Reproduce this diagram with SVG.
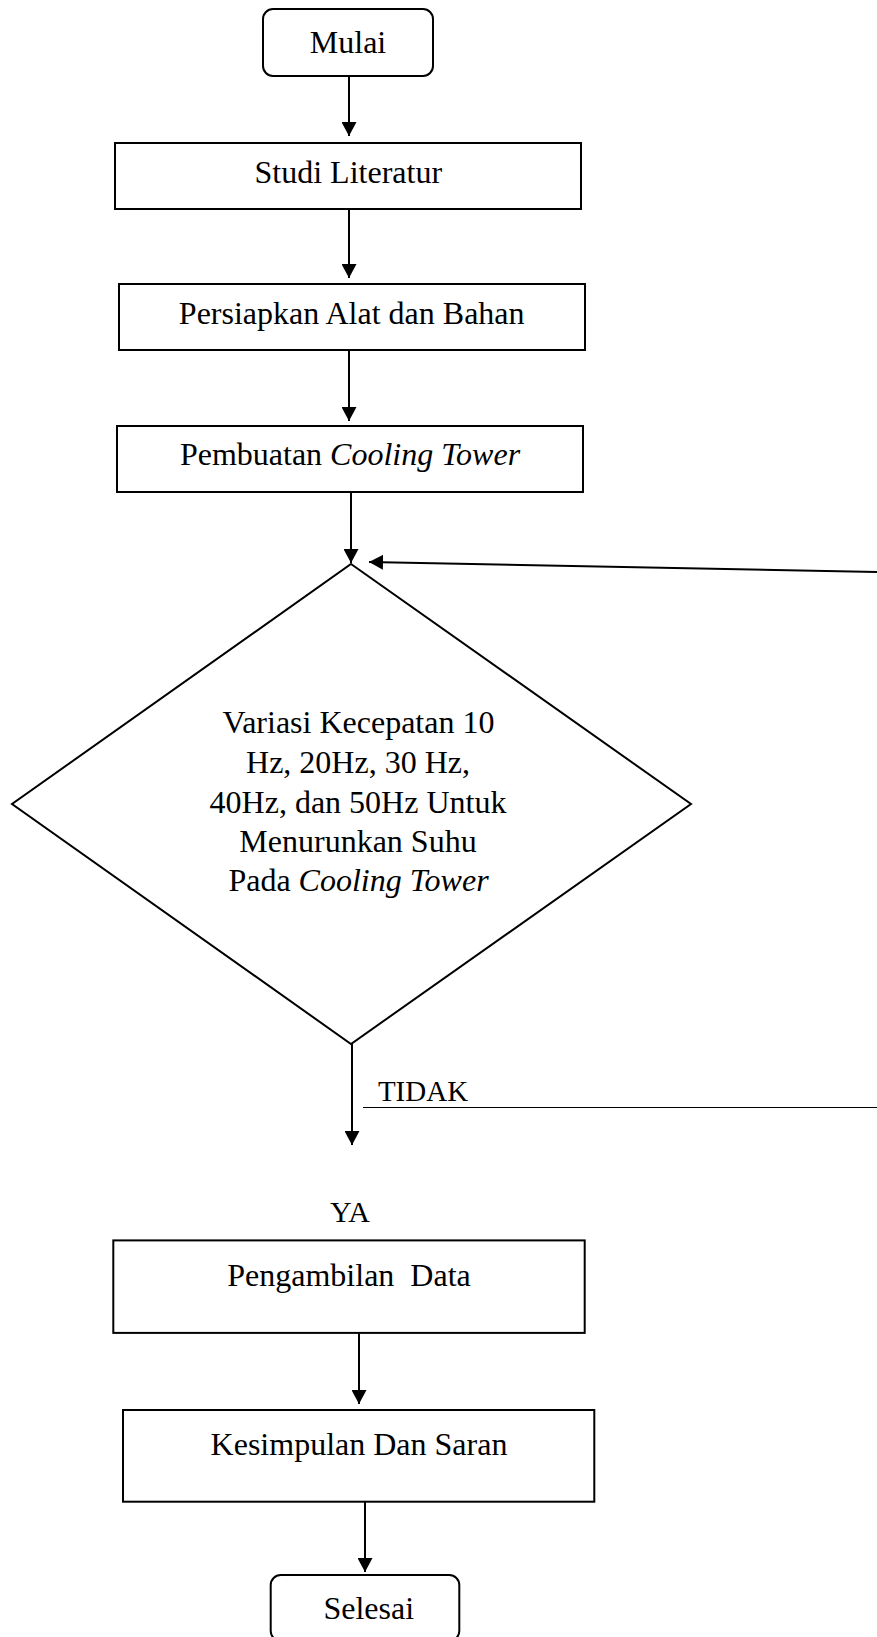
<svg xmlns="http://www.w3.org/2000/svg" width="877" height="1637" viewBox="0 0 877 1637">
  <style>
    .box { fill: #ffffff; stroke: #000000; stroke-width: 2; }
    .dia { fill: #ffffff; stroke: #000000; stroke-width: 2; }
    .lbl { font-family: "Liberation Serif", "Times New Roman", serif; font-size: 32px; fill: #000000; text-anchor: middle; }
    .it { font-style: italic; }
    .edge { fill: none; stroke: #000000; stroke-width: 2; }
    .thin { fill: none; stroke: #000000; stroke-width: 1; }
  </style>
  <defs>
    <marker id="ah" viewBox="0 0 14 15" refX="14" refY="7.5" markerWidth="14" markerHeight="15" markerUnits="userSpaceOnUse" orient="auto">
      <path d="M0,0 L14,7.5 L0,15 z" fill="#000000"/>
    </marker>
  </defs>
  <rect width="877" height="1637" fill="#ffffff"/>

  <g id="connectors">
    <line class="edge" x1="349" y1="76" x2="349" y2="136" marker-end="url(#ah)"/>
    <line class="edge" x1="349" y1="209" x2="349" y2="278" marker-end="url(#ah)"/>
    <line class="edge" x1="349" y1="350" x2="349" y2="421" marker-end="url(#ah)"/>
    <line class="edge" x1="351" y1="492" x2="351" y2="563" marker-end="url(#ah)"/>
    <line class="edge" x1="877" y1="572" x2="369" y2="562" marker-end="url(#ah)"/>
    <line class="edge" x1="352" y1="1044" x2="352" y2="1145" marker-end="url(#ah)"/>
    <line class="thin" x1="363" y1="1107.5" x2="877" y2="1107.5"/>
    <line class="edge" x1="359" y1="1333" x2="359" y2="1404" marker-end="url(#ah)"/>
    <line class="edge" x1="365" y1="1502" x2="365" y2="1572" marker-end="url(#ah)"/>
    <text class="lbl" x="423" y="1100.7" style="font-size:29px">TIDAK</text>
    <text class="lbl" x="350" y="1221.6" style="font-size:30px">YA</text>
  </g>

  <g id="mulai">
    <rect class="box" x="263" y="9" width="170" height="67" rx="10" ry="10"/>
    <text class="lbl" x="348" y="52.7">Mulai</text>
  </g>

  <g id="studi-literatur">
    <rect class="box" x="115" y="143" width="466" height="66"/>
    <text class="lbl" x="348.3" y="183">Studi Literatur</text>
  </g>

  <g id="persiapkan">
    <rect class="box" x="119" y="284" width="466" height="66"/>
    <text class="lbl" x="351.7" y="324">Persiapkan Alat dan Bahan</text>
  </g>

  <g id="pembuatan">
    <rect class="box" x="117" y="426" width="466" height="66"/>
    <text class="lbl" x="350" y="465">Pembuatan <tspan class="it">Cooling Tower</tspan></text>
  </g>

  <g id="variasi">
    <polygon class="dia" points="351,564 691,804 351,1044 12,804"/>
    <text class="lbl" x="358.5" y="733.3">Variasi Kecepatan 10</text>
    <text class="lbl" x="358" y="773.4">Hz, 20Hz, 30 Hz,</text>
    <text class="lbl" x="358" y="812.5">40Hz, dan 50Hz Untuk</text>
    <text class="lbl" x="358" y="851.9">Menurunkan Suhu</text>
    <text class="lbl" x="358.5" y="891.3">Pada <tspan class="it">Cooling Tower</tspan></text>
  </g>

  <g id="pengambilan">
    <rect class="box" x="113.3" y="1240.4" width="471.4" height="92.5"/>
    <text class="lbl" x="349" y="1286" xml:space="preserve">Pengambilan  Data</text>
  </g>

  <g id="kesimpulan">
    <rect class="box" x="123" y="1410" width="471.3" height="91.7"/>
    <text class="lbl" x="359" y="1454.5">Kesimpulan Dan Saran</text>
  </g>

  <g id="selesai">
    <rect class="box" x="270.7" y="1575" width="188.6" height="66" rx="10" ry="10"/>
    <text class="lbl" x="368.7" y="1619">Selesai</text>
  </g>
</svg>
